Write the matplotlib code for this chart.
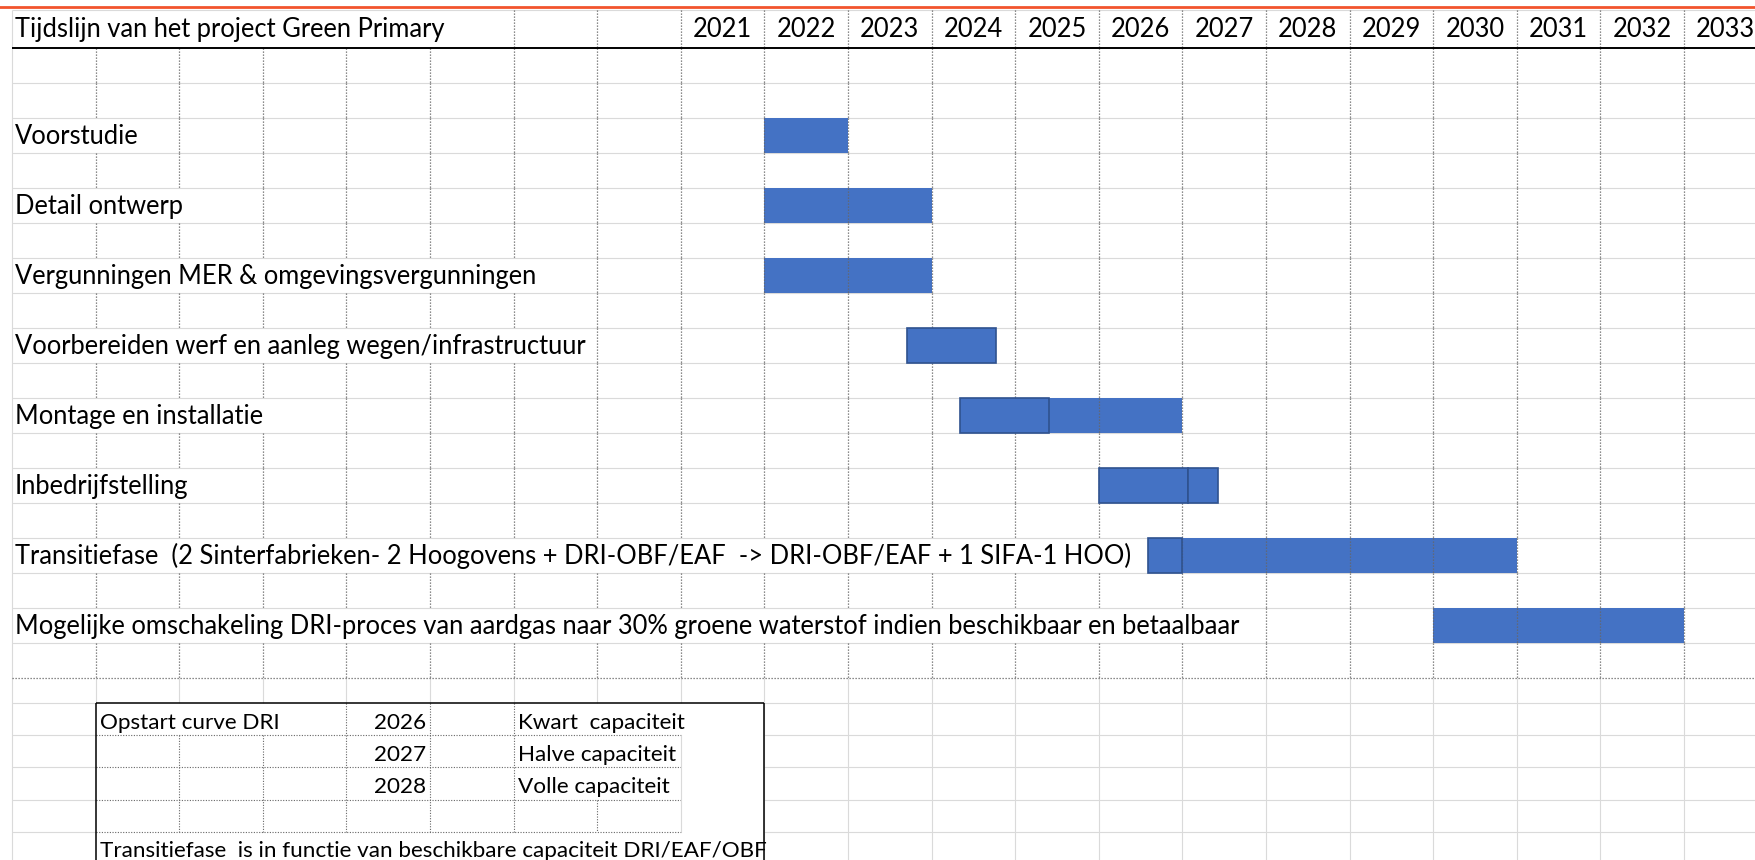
import numpy as np
import matplotlib
matplotlib.use("Agg")
import matplotlib.pyplot as plt

plt.rcParams['font.family'] = ['Lato', 'DejaVu Sans']

# ---- data ----
title = "Tijdslijn van het project Green Primary"
years = list(range(2021, 2034))
tasks = [
    "Voorstudie",
    "Detail ontwerp",
    "Vergunningen MER & omgevingsvergunningen",
    "Voorbereiden werf en aanleg wegen/infrastructuur",
    "Montage en installatie",
    "Inbedrijfstelling",
    "Transitiefase  (2 Sinterfabrieken- 2 Hoogovens + DRI-OBF/EAF  -> DRI-OBF/EAF + 1 SIFA-1 HOO)",
    "Mogelijke omschakeling DRI-proces van aardgas naar 30% groene waterstof indien beschikbaar en betaalbaar",
]
# filled year cells per task (start, end) in years
cell_start = [2022, 2022, 2022, None, 2025, None, 2027, 2030]
cell_end = [2023, 2024, 2024, None, 2027, None, 2031, 2033]
# drawn shapes with border per task (start, end) in years
shape_spans = [
    [],
    [],
    [],
    [(2023.70, 2024.77)],
    [(2024.34, 2025.41)],
    [(2026.0, 2027.07), (2027.07, 2027.43)],
    [(2026.59, 2027.0)],
    [],
]

startup_title = "Opstart curve DRI"
startup_years = [2026, 2027, 2028]
startup_levels = ["Kwart  capaciteit", "Halve capaciteit", "Volle capaciteit"]
note = "Transitiefase  is in functie van beschikbare capaciteit DRI/EAF/OBF"

# ---- sheet geometry (pixels) ----
W, H = 1756, 860
COL_W = 83.6          # px per column / year
COL0 = 12.0           # left edge of column A in px
FIRST_YEAR_COL = 8    # 2021 sits in the 9th column
ROW_H = 35.0
ROW0 = 47.7           # top of first row under header
HEAD_TOP = 10.0
LOW_ROWS = [677.7, 702.7, 735.1, 767.5, 799.9, 832.3, 864.7]

BLUE = '#4472c4'
EDGE = '#2f528f'
GRID = '#dadada'
DOT = '#666666'
FS = 18.4
FS_LOW = 16.2

x_a = years[0] - FIRST_YEAR_COL   # x value of column A left edge


def px(p):
    return x_a + (p - COL0) / COL_W


def py(p):
    return (p - ROW0) / ROW_H


fig = plt.figure(figsize=(W / 100, H / 100), dpi=100)
ax = fig.add_axes([0, 0, 1, 1])
ax.set_xlim(px(0), px(W))
ax.set_ylim(py(H), py(0))
ax.axis('off')

x_right = px(W)
edges = np.arange(x_a, x_right + 1)

# orange frame line and header
ax.axhline(py(7.3), color='#f2542d', lw=2.0, zorder=5)
ax.hlines(py(HEAD_TOP), x_a, x_right, color=GRID, lw=0.8)
ax.hlines(0, x_a, x_right, color='black', lw=1.4, zorder=5)
ax.vlines(x_a, py(HEAD_TOP), py(H), color=GRID, lw=0.8)

# header texts
head_txt = ax.text(px(15), py(ROW0 - 10.4), title, fontsize=FS, va='baseline', ha='left')
for yr in years:
    ax.text(yr + 0.5, py(ROW0 - 10.4), str(yr), fontsize=FS, va='baseline', ha='center')

# row grid lines of the upper block
n_rows = 18
ax.hlines(np.arange(1, n_rows), x_a, x_right, color=GRID, lw=0.8, zorder=1)
ax.hlines(n_rows, x_a, x_right, color=DOT, lw=0.9, linestyles=(0, (1, 1.4)), zorder=3)

# task labels and bars
task_rows = [2 + 2 * i for i in range(len(tasks))]
label_txt = {}
for i, (name, r) in enumerate(zip(tasks, task_rows)):
    label_txt[r] = ax.text(px(15), r + 1 - 9.0 / ROW_H, name, fontsize=FS,
                           va='baseline', ha='left', zorder=6)
    if cell_start[i] is not None:
        ax.barh(r, cell_end[i] - cell_start[i], left=cell_start[i], height=1,
                align='edge', color=BLUE, edgecolor='none', zorder=2)
    for s, e in shape_spans[i]:
        ax.barh(r, e - s, left=s, height=1, align='edge', color=BLUE,
                edgecolor=EDGE, lw=1.2, zorder=4)

# dotted column borders, hidden where a label overflows into the next cells
fig.canvas.draw()
inv = ax.transData.inverted()


def text_end(t):
    bb = t.get_window_extent()
    return inv.transform((bb.x1, bb.y0))[0]


bands = [(py(HEAD_TOP), 0.0, text_end(head_txt))]
for r in range(n_rows):
    end = text_end(label_txt[r]) if r in label_txt else x_a
    bands.append((r, r + 1, end))
for top, bot, end in bands:
    xs = [e for e in edges[1:] if e > end]
    ax.vlines(xs, top, bot, color=DOT, lw=0.9, linestyles=(0, (1, 1.4)), zorder=3)

# ---- lower block ----
ly = [py(v) for v in LOW_ROWS]
box_l, box_r = x_a + 1, x_a + 9
ax.vlines(edges[1:], ly[0], ly[1], color=GRID, lw=0.8, zorder=1)
ax.vlines(edges[edges >= box_r], ly[1], py(H), color=GRID, lw=0.8, zorder=1)
for y in ly[1:6]:
    ax.hlines(y, x_a, box_l, color=GRID, lw=0.8, zorder=1)
    ax.hlines(y, box_r, x_right, color=GRID, lw=0.8, zorder=1)

# box
ax.hlines(ly[1], box_l, box_r, color='black', lw=1.1, zorder=5)
ax.vlines([box_l, box_r], ly[1], py(H) + 1, color='black', lw=1.1, zorder=5)

# inner dotted borders
dots = dict(color=DOT, lw=0.8, linestyles=(0, (1, 1.4)), zorder=3)
ax.hlines(ly[2:6], box_l, x_a + 8, **dots)
ax.vlines([x_a + 2, x_a + 3], ly[2], ly[5], **dots)
ax.vlines([x_a + 4, x_a + 5, x_a + 6], ly[1], ly[5], **dots)
ax.vlines(x_a + 7, ly[4], ly[5], **dots)
ax.vlines(x_a + 8, ly[2], ly[5], color=GRID, lw=0.8, zorder=3)

# lower texts
ax.text(px(100), py(LOW_ROWS[2] - 6.5), startup_title, fontsize=FS_LOW, va='baseline', ha='left')
for k, (yr, lvl) in enumerate(zip(startup_years, startup_levels)):
    base = py(LOW_ROWS[2 + k] - 6.5)
    ax.text(px(426), base, str(yr), fontsize=FS_LOW, va='baseline', ha='right')
    ax.text(px(518), base, lvl, fontsize=FS_LOW, va='baseline', ha='left')
ax.text(px(100), py(LOW_ROWS[6] - 7.5), note, fontsize=FS_LOW, va='baseline', ha='left')

fig.savefig('out.png', dpi=100, facecolor='white')
